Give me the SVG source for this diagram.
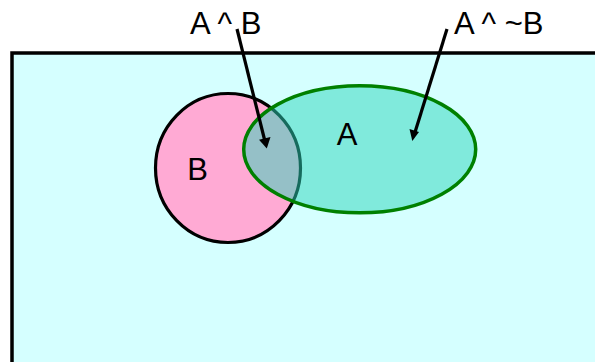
<svg xmlns="http://www.w3.org/2000/svg" width="595" height="362" viewBox="0 0 595 362">
<defs>
<style>
text{font-family:"Liberation Sans",Arial,sans-serif;font-size:31px;fill:#000}
.arrow{stroke:#000;stroke-width:3.2;fill:none}
</style>
</defs>
<rect x="0" y="0" width="595" height="362" fill="#fff"/>
<g id="universe">
<rect x="12" y="53" width="600" height="330" fill="#d5ffff" stroke="#000" stroke-width="3.5"/>
</g>
<g id="setB">
<ellipse cx="228" cy="168" rx="72.5" ry="74.5" fill="#ffaad4" stroke="#000" stroke-width="3.2"/>
<text x="197.5" y="180" text-anchor="middle">B</text>
</g>
<g id="setA">
<ellipse cx="359.7" cy="149.3" rx="116" ry="63.5" fill="#2bd5b9" fill-opacity="0.5" stroke="#008000" stroke-width="3.5"/>
<text x="347" y="145" text-anchor="middle">A</text>
</g>
<g id="labels">
<text x="190" y="34" xml:space="preserve">A ^ B</text>
<text x="454" y="34" xml:space="preserve">A ^ ~B</text>
</g>
<g id="connectors">
<line class="arrow" x1="237" y1="29" x2="265.5" y2="143.5"/>
<path d="M266.8,148.5 L259,139.8 L270.5,137 Z" fill="#000"/>
<line class="arrow" x1="447" y1="29" x2="414" y2="135.5"/>
<path d="M412.3,141 L409.5,129 L419,132 Z" fill="#000"/>
</g>
</svg>
